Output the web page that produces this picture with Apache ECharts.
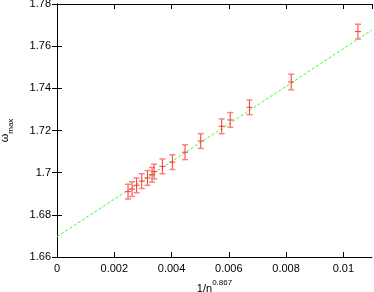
<!DOCTYPE html>
<html>
<head>
<meta charset="utf-8">
<script src="https://cdn.jsdelivr.net/npm/echarts@6/dist/echarts.min.js"></script>
<style>
  html, body { margin: 0; padding: 0; background: #fff; }
  #main { width: 374px; height: 292px; }
</style>
</head>
<body>
<div id="main"></div>
<script>
// measured points, x = 1/n^0.867
const xs = [0.00248, 0.00262, 0.00278, 0.00296, 0.00316, 0.00332, 0.00339, 0.00368,
            0.00403, 0.00447, 0.00502, 0.00575, 0.00605, 0.00672, 0.00818, 0.01051];
const ys = [1.6910, 1.6922, 1.6940, 1.6960, 1.6975, 1.6990, 1.7005, 1.7030,
            1.7050, 1.7097, 1.7150, 1.7220, 1.7250, 1.7310, 1.7430, 1.7669];
const errs = [0.0035, 0.0035, 0.0035, 0.0035, 0.0035, 0.0035, 0.0035, 0.0035,
              0.0035, 0.0035, 0.0035, 0.0035, 0.0035, 0.0035, 0.0037, 0.0035];
// linear fit
const fitX = [0, 0.011];
const fitY = [1.6696, 1.7677];

const pts = xs.map((x, i) => [x, ys[i], errs[i]]);
const fit = fitX.map((x, i) => [x, fitY[i]]);

const font = 'Liberation Sans, Arial, sans-serif';
const axisBase = {
  axisLine: { show: true, lineStyle: { color: '#000', width: 1 } },
  axisTick: { show: true, inside: true, length: 5, lineStyle: { color: '#000' } },
  splitLine: { show: false }
};

let myChart = echarts.init(document.getElementById('main'));
myChart.setOption({
  animation: false,
  grid: { left: 57, top: 4, right: 2, bottom: 35, outerBoundsMode: 'none', containLabel: false },
  xAxis: [
    Object.assign({}, axisBase, {
      type: 'value', min: 0, max: 0.011, interval: 0.002,
      axisLabel: { color: '#000', fontSize: 11, fontFamily: font, margin: 6, showMaxLabel: false },
      name: '{a|1/n}{s|0.867}',
      nameLocation: 'middle',
      nameGap: 15,
      nameTextStyle: {
        rich: {
          a: { fontSize: 11, fontFamily: font, color: '#000', lineHeight: 16, verticalAlign: 'bottom' },
          s: { fontSize: 8, fontFamily: font, color: '#000', verticalAlign: 'top' }
        }
      }
    }),
    Object.assign({}, axisBase, {
      type: 'value', min: 0, max: 0.011, interval: 0.002, position: 'top',
      axisLabel: { show: false }
    })
  ],
  yAxis: [
    Object.assign({}, axisBase, {
      type: 'value', min: 1.66, max: 1.78, interval: 0.02,
      axisLabel: { color: '#000', fontSize: 11, fontFamily: font, margin: 6 },
      name: '{a|ω}{s|max}',
      nameLocation: 'middle',
      nameGap: 42,
      nameTextStyle: {
        rich: {
          a: { fontSize: 11, fontFamily: font, color: '#000', lineHeight: 16, verticalAlign: 'top' },
          s: { fontSize: 8, fontFamily: font, color: '#000', verticalAlign: 'bottom' }
        }
      }
    }),
    Object.assign({}, axisBase, {
      type: 'value', min: 1.66, max: 1.78, interval: 0.02, position: 'right',
      axisLabel: { show: false }
    })
  ],
  series: [
    {
      type: 'line',
      data: fit,
      symbol: 'none',
      lineStyle: { color: '#33ff33', width: 1, type: [3, 2] },
      z: 1
    },
    {
      type: 'custom',
      data: pts,
      z: 2,
      renderItem: function (params, api) {
        const x = api.value(0), y = api.value(1), e = api.value(2);
        const c = api.coord([x, y]);
        const hi = api.coord([x, y + e]);
        const lo = api.coord([x, y - e]);
        const st = { stroke: '#ff3030', lineWidth: 1 };
        const cap = 3;
        return {
          type: 'group',
          children: [
            { type: 'line', shape: { x1: c[0], y1: hi[1], x2: c[0], y2: lo[1] }, style: st },
            { type: 'line', shape: { x1: c[0] - cap, y1: hi[1], x2: c[0] + cap, y2: hi[1] }, style: { stroke: '#ff8080', lineWidth: 1.5 } },
            { type: 'line', shape: { x1: c[0] - cap, y1: lo[1], x2: c[0] + cap, y2: lo[1] }, style: { stroke: '#ff8080', lineWidth: 1.5 } },
            { type: 'line', shape: { x1: c[0] - 3, y1: c[1], x2: c[0] + 3, y2: c[1] }, style: st }
          ]
        };
      }
    }
  ]
});
</script>
</body>
</html>
